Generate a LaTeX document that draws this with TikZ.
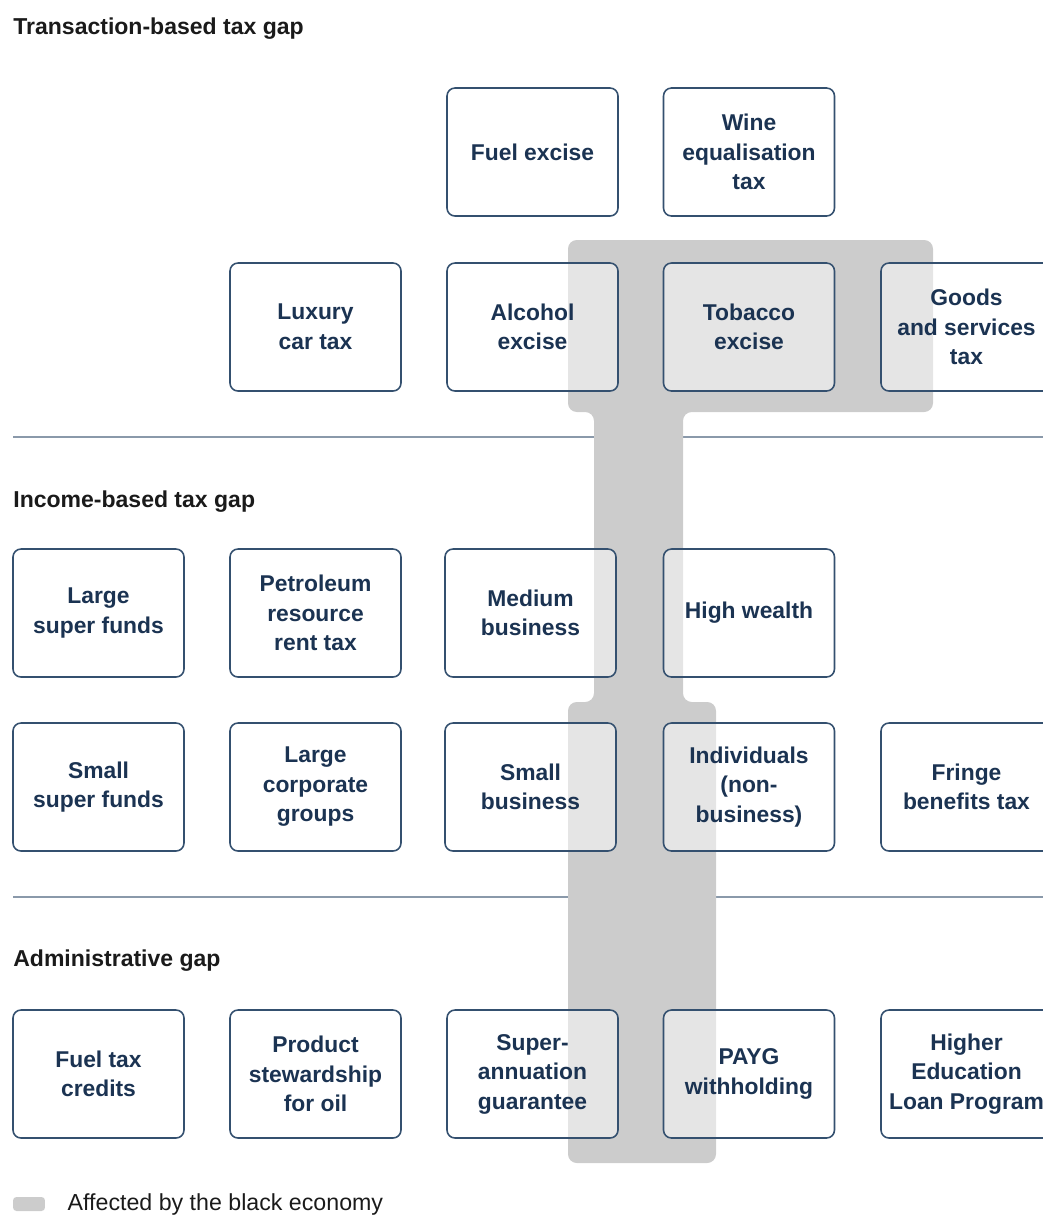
\documentclass[tikz,border=0pt]{standalone}
\usepackage{fontspec}
\setmainfont{Liberation Sans}
\usetikzlibrary{positioning}
\definecolor{ink}{HTML}{1B3352}
\definecolor{edge}{HTML}{34506F}
\definecolor{shade}{HTML}{CCCCCC}
\definecolor{rule}{HTML}{8A99AA}
\definecolor{head}{HTML}{1A1A1A}
\tikzset{
  b/.style={draw=edge, line width=0.9pt, rounded corners=4.5pt, fill=white, fill opacity=0.5, text opacity=1, text=ink, align=center, minimum width=3.42cm, minimum height=2.56cm, inner sep=0pt, font=\bfseries\fontsize{13}{16.8}\selectfont},
  hd/.style={anchor=west, text=head, inner sep=0pt, font=\bfseries\fontsize{13.1}{16}\selectfont},
  sep/.style={draw=rule, line width=0.6pt},
  blk/.style={fill=shade, rounded corners=5pt},
}
\begin{document}
\begin{tikzpicture}[x=0.02cm, y=-0.02cm]
\useasboundingbox (0,0) rectangle (1043,1215);
\clip (0,0) rectangle (1043,1215);

% ---- section rules and headings ----
\coordinate (r1a) at (13,437);   \coordinate (r1b) at (1043,437);
\coordinate (r2a) at (13,897);   \coordinate (r2b) at (1043,897);
\draw[sep] (r1a) -- (r1b);
\draw[sep] (r2a) -- (r2b);
\node[hd] (trans) at (13,29)  {Transaction-based tax gap};
\node[hd] (income) at (13,502) {Income-based tax gap};
\node[hd] (admin) at (13,961) {Administrative gap};

% ---- black economy band ----
\fill[blk] (568,240) -- (933,240) -- (933,412) -- (683,412) -- (683,702) -- (716,702)
  -- (716,1163) -- (568,1163) -- (568,702) -- (594,702) -- (594,412) -- (568,412) -- cycle;

% ---- transaction-based ----
\node[b] (fuel)    at (532.5,152) {Fuel excise};
\node[b] (wine)    at (749,152)   {Wine\\equalisation\\tax};
\node[b] (luxury)  at (315.5,327) {Luxury\\car tax};
\node[b] (alcohol) at (532.5,327) {Alcohol\\excise};
\node[b] (tobacco) at (749,327)   {Tobacco\\excise};
\node[b] (gst)     at (966.5,327) {Goods\\and services\\tax};

% ---- income-based ----
\node[b] (lsuper)  at (98.5,613)  {Large\\super funds};
\node[b] (prrt)    at (315.5,613) {Petroleum\\resource\\rent tax};
\node[b] (medium)  at (530.5,613) {Medium\\business};
\node[b] (wealth)  at (749,613)   {High wealth};
\node[b] (ssuper)  at (98.5,787)  {Small\\super funds};
\node[b] (lcorp)   at (315.5,787) {Large\\corporate\\groups};
\node[b] (small)   at (530.5,787) {Small\\business};
\node[b] (indiv)   at (749,787)   {Individuals\\(non-\\business)};
\node[b] (fbt)     at (966.5,787) {Fringe\\benefits tax};

% ---- administrative ----
\node[b] (fuelcr)  at (98.5,1074)  {Fuel tax\\credits};
\node[b] (oil)     at (315.5,1074) {Product\\stewardship\\for oil};
\node[b] (superg)  at (532.5,1074) {Super-\\annuation\\guarantee};
\node[b] (payg)    at (749,1074)   {PAYG\\withholding};
\node[b] (help)    at (966.5,1074) {Higher\\Education\\Loan Program};

% ---- legend ----
\node[blk, rounded corners=2pt, minimum width=0.64cm, minimum height=0.28cm, inner sep=0pt] (key) at (29,1204) {};
\node[right=0.44cm of key, inner sep=0pt, text=head, font=\fontsize{13.2}{16}\selectfont] (keytxt) {Affected by the black economy};
\end{tikzpicture}
\end{document}
